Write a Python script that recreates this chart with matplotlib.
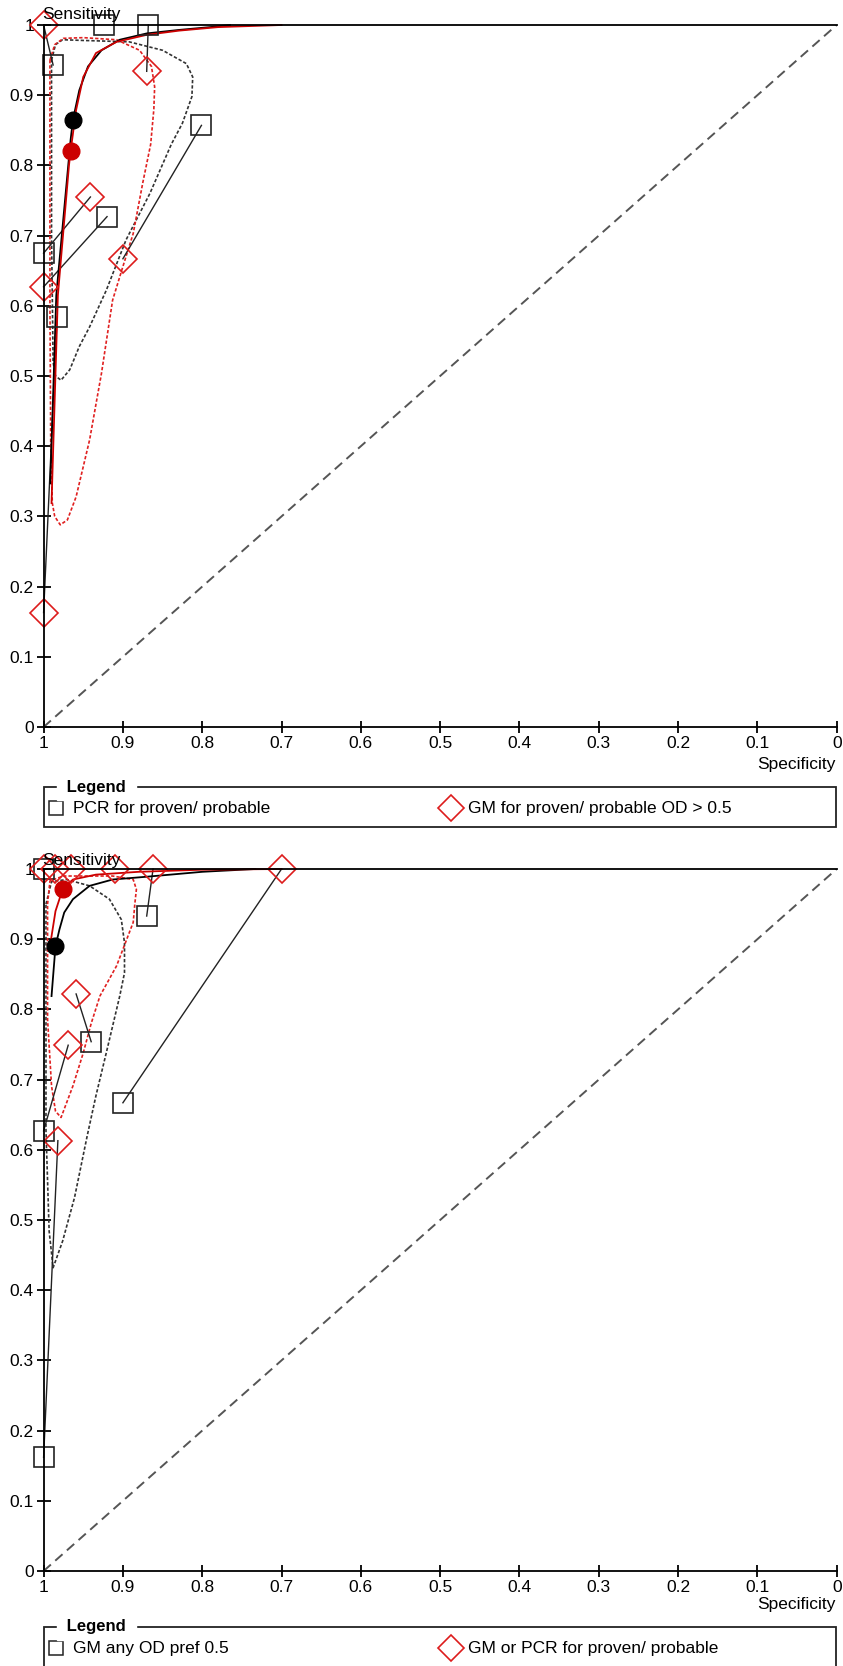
import matplotlib
matplotlib.use("Agg")
import matplotlib.pyplot as plt
from matplotlib.lines import Line2D
from matplotlib.patches import Rectangle

plt.rcParams["font.family"] = ["Liberation Sans", "DejaVu Sans"]

W, H = 843, 1666
RED = "#cc0000"

# ---- top panel: PCR (squares) vs GM OD > 0.5 (diamonds) ----
top_sq_spec = [0.924, 0.868, 0.988, 0.801, 0.920, 1.000, 0.983]
top_sq_sens = [1.000, 1.000, 0.943, 0.857, 0.727, 0.675, 0.584]
top_di_spec = [1.000, 0.870, 0.941, 0.900, 1.000, 1.000]
top_di_sens = [1.000, 0.934, 0.755, 0.667, 0.627, 0.163]
top_links = [(1, 1), (2, 0), (3, 3), (4, 4), (5, 2), (6, 5)]

top_sum_sq = (0.963, 0.865)
top_sum_di = (0.966, 0.820)

top_sroc_sq_spec = [0.9915, 0.984, 0.966, 0.963, 0.955, 0.944, 0.927, 0.904, 0.870, 0.829, 0.790, 0.765]
top_sroc_sq_sens = [0.347, 0.615, 0.836, 0.865, 0.907, 0.941, 0.964, 0.979, 0.988, 0.993, 0.997, 1.000]
top_sroc_di_spec = [0.990, 0.982, 0.968, 0.966, 0.959, 0.950, 0.934, 0.908, 0.870, 0.829, 0.780, 0.700]
top_sroc_di_sens = [0.319, 0.615, 0.800, 0.820, 0.879, 0.926, 0.960, 0.976, 0.986, 0.992, 0.997, 1.000]

top_cr_sq_spec = [0.990, 0.985, 0.976, 0.950, 0.892, 0.850, 0.820, 0.812, 0.813, 0.825, 0.839, 0.866,
                  0.896, 0.921, 0.942, 0.955, 0.967, 0.978, 0.985, 0.988, 0.990, 0.990]
top_cr_sq_sens = [0.950, 0.972, 0.979, 0.978, 0.976, 0.964, 0.945, 0.926, 0.898, 0.860, 0.830, 0.760,
                  0.694, 0.622, 0.570, 0.542, 0.509, 0.494, 0.500, 0.520, 0.700, 0.950]
top_cr_di_spec = [0.992, 0.986, 0.975, 0.950, 0.908, 0.879, 0.864, 0.860, 0.861, 0.865, 0.875, 0.887,
                  0.900, 0.913, 0.927, 0.942, 0.959, 0.970, 0.979, 0.986, 0.989, 0.991, 0.992, 0.992]
top_cr_di_sens = [0.950, 0.972, 0.981, 0.982, 0.979, 0.964, 0.941, 0.912, 0.880, 0.830, 0.775, 0.703,
                  0.656, 0.608, 0.504, 0.409, 0.328, 0.295, 0.288, 0.300, 0.319, 0.400, 0.600, 0.950]

# ---- bottom panel: GM any OD (squares) vs GM or PCR (diamonds) ----
bot_sq_spec = [1.000, 0.870, 0.940, 0.900, 1.000, 1.000]
bot_sq_sens = [1.000, 0.933, 0.754, 0.667, 0.627, 0.162]
bot_di_spec = [1.000, 0.986, 0.966, 0.910, 0.862, 0.700, 0.959, 0.969, 0.982]
bot_di_sens = [1.000, 1.000, 1.000, 1.000, 1.000, 1.000, 0.822, 0.749, 0.613]
bot_links = [(0, 0), (1, 4), (2, 6), (3, 5), (4, 7), (5, 8)]

bot_sum_sq = (0.985, 0.890)
bot_sum_di = (0.976, 0.971)

bot_sroc_sq_spec = [0.990, 0.985, 0.980, 0.974, 0.963, 0.942, 0.913, 0.870, 0.800, 0.733]
bot_sroc_sq_sens = [0.819, 0.890, 0.914, 0.938, 0.957, 0.976, 0.985, 0.989, 0.996, 1.000]
bot_sroc_di_spec = [0.991, 0.985, 0.976, 0.963, 0.934, 0.880, 0.800, 0.700]
bot_sroc_di_sens = [0.897, 0.940, 0.971, 0.985, 0.992, 0.996, 0.999, 1.000]

bot_cr_sq_spec = [0.997, 0.990, 0.971, 0.942, 0.917, 0.902, 0.898, 0.898, 0.904, 0.921, 0.934, 0.945,
                  0.961, 0.976, 0.988, 0.993, 0.997, 0.997]
bot_cr_sq_sens = [0.950, 0.982, 0.985, 0.976, 0.957, 0.928, 0.895, 0.852, 0.819, 0.738, 0.677, 0.620,
                  0.532, 0.470, 0.432, 0.484, 0.627, 0.950]
bot_cr_di_spec = [0.995, 0.992, 0.975, 0.955, 0.913, 0.887, 0.883, 0.885, 0.887, 0.908, 0.929, 0.940,
                  0.950, 0.963, 0.978, 0.985, 0.990, 0.995, 0.995]
bot_cr_di_sens = [0.950, 0.983, 0.990, 0.990, 0.990, 0.985, 0.971, 0.950, 0.924, 0.862, 0.819, 0.780,
                  0.738, 0.691, 0.646, 0.655, 0.691, 0.786, 0.950]

diag_spec = [1.0, 0.0]
diag_sens = [0.0, 1.0]
ticks = [1.0, 0.9, 0.8, 0.7, 0.6, 0.5, 0.4, 0.3, 0.2, 0.1, 0.0]
tick_labels = ["1", "0.9", "0.8", "0.7", "0.6", "0.5", "0.4", "0.3", "0.2", "0.1", "0"]

top_legend = ["PCR for proven/ probable", "GM for proven/ probable OD > 0.5"]
bot_legend = ["GM any OD pref 0.5", "GM or PCR for proven/ probable"]


def px(x, y):
    """ pixel position (from top-left) -> figure fraction """
    return x / W, 1 - y / H


def draw_panel(ax, sq, di, links, sum_sq, sum_di, sroc_sq, sroc_di, cr_sq, cr_di):
    ax.set_xlim(1, 0)
    ax.set_ylim(0, 1)
    ax.plot(diag_spec, diag_sens, color="#555555", lw=1.4, ls=(0, (5, 3)))

    # confidence regions
    ax.plot(cr_sq[0], cr_sq[1], color="#333333", lw=1.2, ls=(0, (2, 1.2)), clip_on=False)
    ax.plot(cr_di[0], cr_di[1], color="#e02020", lw=1.2, ls=(0, (2, 1.2)), clip_on=False)

    # study links
    for i, j in links:
        ax.plot([sq[0][i], di[0][j]], [sq[1][i], di[1][j]], color="#222222", lw=1.0, clip_on=False)

    # sroc curves
    ax.plot(sroc_sq[0], sroc_sq[1], color="black", lw=1.3, clip_on=False)
    ax.plot(sroc_di[0], sroc_di[1], color=RED, lw=1.3, clip_on=False)

    ax.plot(sq[0], sq[1], ls="none", marker="s", ms=14.5, mfc="none", mec="#222222", mew=1.2, clip_on=False)
    ax.plot(di[0], di[1], ls="none", marker="D", ms=14, mfc="none", mec="#dd1c1c", mew=1.2, clip_on=False)

    ax.plot(*sum_sq, marker="o", ms=12, color="black", clip_on=False)
    ax.plot(*sum_di, marker="o", ms=12, color=RED, clip_on=False)

    for s in ["left", "bottom", "top"]:
        ax.spines[s].set_linewidth(1.3)
    ax.spines["right"].set_visible(False)
    ax.set_xticks(ticks)
    ax.set_xticklabels(tick_labels)
    ax.set_yticks(ticks)
    ax.set_yticklabels(tick_labels)
    ax.tick_params(axis="y", direction="inout", length=10, width=1.3, labelsize=12.5, pad=2)
    ax.tick_params(axis="x", direction="inout", length=9, width=1.3, labelsize=12.5, pad=2)


def draw_legend(fig, y_top, y_bot, labels):
    x0, y0 = px(44, y_bot)
    x1, y1 = px(836, y_top)
    fig.add_artist(Rectangle((x0, y0), x1 - x0, y1 - y0, transform=fig.transFigure,
                             fill=False, lw=1.3, ec="#222222", clip_on=False))
    fig.text(*px(62, y_top), " Legend ", fontsize=12, fontweight="bold", ha="left", va="center",
             backgroundcolor="white")
    ym = y_top + 21
    fig.add_artist(Line2D([px(56, ym)[0]], [px(56, ym)[1]], transform=fig.transFigure,
                          marker="s", ms=10, mfc="none", mec="#222222", mew=1.1, ls="none"))
    fig.text(*px(73, ym), labels[0], fontsize=12.5, ha="left", va="center")
    fig.add_artist(Line2D([px(451, ym)[0]], [px(451, ym)[1]], transform=fig.transFigure,
                          marker="D", ms=13, mfc="none", mec="#dd1c1c", mew=1.2, ls="none"))
    fig.text(*px(468, ym), labels[1], fontsize=12.5, ha="left", va="center")


fig = plt.figure(figsize=(W / 100, H / 100), dpi=100)

ax1 = fig.add_axes([43.6 / W, 1 - 727 / H, (836.7 - 43.6) / W, (727 - 25) / H])
draw_panel(ax1, (top_sq_spec, top_sq_sens), (top_di_spec, top_di_sens), top_links,
           top_sum_sq, top_sum_di,
           (top_sroc_sq_spec, top_sroc_sq_sens), (top_sroc_di_spec, top_sroc_di_sens),
           (top_cr_sq_spec, top_cr_sq_sens), (top_cr_di_spec, top_cr_di_sens))

ax2 = fig.add_axes([43.6 / W, 1 - 1571 / H, (836.7 - 43.6) / W, (1571 - 869) / H])
draw_panel(ax2, (bot_sq_spec, bot_sq_sens), (bot_di_spec, bot_di_sens), bot_links,
           bot_sum_sq, bot_sum_di,
           (bot_sroc_sq_spec, bot_sroc_sq_sens), (bot_sroc_di_spec, bot_sroc_di_sens),
           (bot_cr_sq_spec, bot_cr_sq_sens), (bot_cr_di_spec, bot_cr_di_sens))

for y_s, y_l in [(15, 764), (860, 1605)]:
    fig.text(*px(42, y_s), "Sensitivity", fontsize=12.5, ha="left", va="center")
    fig.text(*px(836, y_l), "Specificity", fontsize=12.5, ha="right", va="center")

draw_legend(fig, 787, 827, top_legend)
draw_legend(fig, 1627, 1675, bot_legend)

fig.savefig("out.png", dpi=100, facecolor="white")
